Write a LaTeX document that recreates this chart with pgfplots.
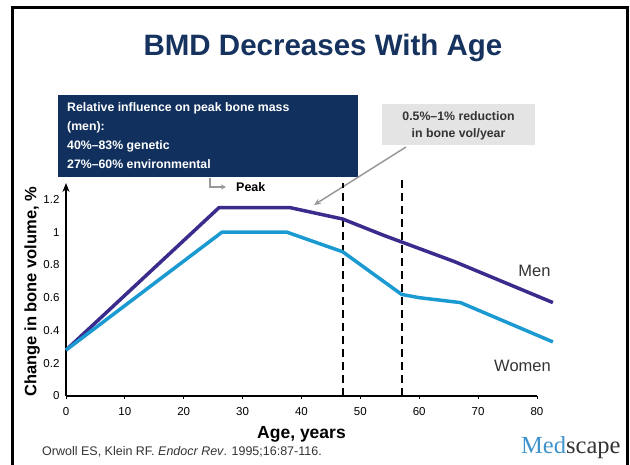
\documentclass[border=0pt]{standalone}
\usepackage{fontspec}
\setmainfont{Liberation Sans}
\newfontfamily\seriffont{Liberation Serif}
\usepackage{pgfplots}
\usepackage{pgfplotstable}
\pgfplotsset{compat=1.18}
\usetikzlibrary{arrows.meta}
\definecolor{men}{HTML}{3A2C8C}
\definecolor{women}{HTML}{1B9AD2}
\definecolor{navy}{HTML}{11305E}
\definecolor{titlec}{HTML}{16335F}
\definecolor{boxgray}{HTML}{E4E4E4}
\definecolor{medblue}{HTML}{3F93CC}
\definecolor{arrowgray}{HTML}{999999}
\definecolor{txt}{HTML}{333333}

\pgfplotstableread{
age val
0 0.28
26 1.15
38 1.15
47 1.08
54 0.98
66 0.82
82.7 0.57
}\mendata

\pgfplotstableread{
age val
0 0.28
26.5 1.0
37.5 1.0
47 0.88
57 0.62
60 0.60
67 0.57
82.7 0.33
}\womendata

\begin{document}
\begin{tikzpicture}[x=1pt,y=1pt]
\useasboundingbox (0pt,0pt) rectangle (630pt,465pt);
\draw[line width=3pt] (12pt,-20pt) -- (12pt,457.5pt) -- (627pt,457.5pt) -- (627pt,-20pt);
\node[font=\fontsize{29.5}{34}\selectfont\bfseries, text=titlec] at (323pt,417pt) {BMD Decreases With Age};
% navy box
\fill[navy] (58pt,370pt) rectangle (358pt,288pt);
\begin{scope}[every node/.style={anchor=west, font=\fontsize{12.3}{14}\selectfont\bfseries, text=white, inner sep=0pt}]
\node at (67pt,357pt) {Relative influence on peak bone mass};
\node at (67pt,338pt) {(men):};
\node at (67pt,319pt) {40\%--83\% genetic};
\node at (67pt,301pt) {27\%--60\% environmental};
\end{scope}
\draw[arrowgray, line width=1.2pt, -{Stealth[length=5pt,width=5pt]}] (210pt,287pt) -- (210pt,278pt) -- (226pt,278pt);
\node[anchor=west, font=\fontsize{12.5}{14}\selectfont\bfseries, inner sep=0pt] at (236pt,278pt) {Peak};
% gray box
\fill[boxgray] (382pt,361pt) rectangle (535pt,320pt);
\node[font=\fontsize{12.3}{14}\selectfont\bfseries, text=txt] at (458.5pt,349pt) {0.5\%--1\% reduction};
\node[font=\fontsize{12.3}{14}\selectfont\bfseries, text=txt] at (458.5pt,331pt) {in bone vol/year};
\draw[arrowgray, line width=1.5pt, -{Stealth[length=7pt,width=6pt]}] (406pt,318pt) -- (314pt,260pt);
% labels
\node[font=\fontsize{16.5}{18}\selectfont, text=txt] at (534.5pt,194pt) {Men};
\node[font=\fontsize{16.5}{18}\selectfont, text=txt] at (522.5pt,99pt) {Women};
\node[anchor=west, font=\fontsize{12.5}{14}\selectfont, text=txt, inner sep=0pt] at (42pt,13pt) {Orwoll ES, Klein RF. \textit{Endocr Rev}. 1995;16:87-116.};
\node[anchor=west, font=\fontsize{24.5}{27}\seriffont, inner sep=0pt] at (521pt,17pt) {\textcolor{medblue}{Med}\textcolor{txt}{scape}};

\begin{axis}[
  at={(66pt,69pt)}, anchor=south west,
  scale only axis, width=471pt, height=213pt,
  xmin=0, xmax=80, ymin=0, ymax=1.30,
  clip=false,
  axis lines=left,
  x axis line style={-, line width=1.5pt},
  y axis line style={-{Stealth[length=9pt,width=7pt]}, line width=2.5pt},
  xtick={0,10,...,80},
  ytick={0,0.2,...,1.2},
  yticklabels={0,0.2,0.4,0.6,0.8,1,1.2},
  major tick length=3pt,
  x tick style={black, line width=0.8pt},
  y tick style={draw=none},
  tick align=outside,
  ticklabel style={font=\fontsize{11.5}{13}\selectfont},
  xticklabel style={yshift=-5pt},
  /pgf/number format/assume math mode=true,
  xlabel={Age, years},
  ylabel={Change in bone volume, \%},
  xlabel style={font=\fontsize{17.5}{19}\selectfont\bfseries, at={(axis description cs:0.5,-0.18)}, anchor=center},
  ylabel style={font=\fontsize{16.5}{18}\selectfont\bfseries, at={(axis description cs:-0.072,0.49)}, anchor=center},
]
\addplot[black, line width=2pt, dash pattern=on 8pt off 5pt] coordinates {(47,0) (47,1.30)};
\addplot[black, line width=2pt, dash pattern=on 8pt off 5pt] coordinates {(57,0) (57,1.33)};
\addplot[men, line width=3.5pt, line join=round] table[x=age, y=val] {\mendata};
\addplot[women, line width=3.5pt, line join=round] table[x=age, y=val] {\womendata};
\end{axis}
\end{tikzpicture}
\end{document}
